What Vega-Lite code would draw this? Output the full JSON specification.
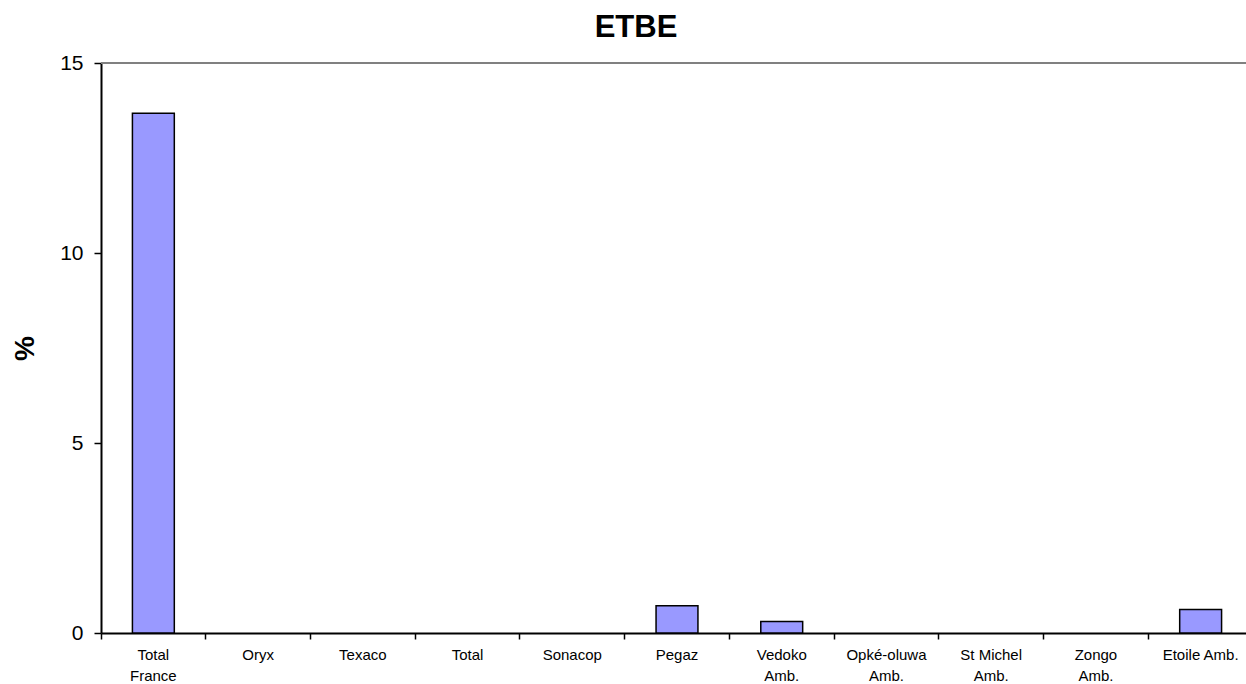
{
  "$schema": "https://vega.github.io/schema/vega-lite/v6.json",
  "autosize": "none",
  "width": 1152,
  "height": 570,
  "padding": {"left": 101, "top": 63, "right": -7, "bottom": 51},
  "background": "white",
  "title": {
    "text": "ETBE",
    "font": "Liberation Sans",
    "fontSize": 31,
    "fontWeight": "bold",
    "color": "black",
    "anchor": "middle",
    "dx": -41,
    "offset": 8
  },
  "config": {
    "view": {"stroke": null},
    "font": "Liberation Sans"
  },
  "data": {
    "values": [
      {"station": "Total|France", "pct": 13.68},
      {"station": "Oryx", "pct": 0},
      {"station": "Texaco", "pct": 0},
      {"station": "Total", "pct": 0},
      {"station": "Sonacop", "pct": 0},
      {"station": "Pegaz", "pct": 0.72},
      {"station": "Vedoko|Amb.", "pct": 0.3},
      {"station": "Opké-oluwa|Amb.", "pct": 0},
      {"station": "St Michel|Amb.", "pct": 0},
      {"station": "Zongo|Amb.", "pct": 0},
      {"station": "Etoile Amb.", "pct": 0.62}
    ]
  },
  "layer": [
    {
      "mark": {"type": "rule", "color": "#808080", "strokeWidth": 2},
      "encoding": {"y": {"datum": 15, "type": "quantitative"}}
    },
    {
      "mark": {"type": "bar", "fill": "#9999FF", "stroke": "black", "strokeWidth": 1.5, "width": {"band": 0.4}},
      "encoding": {
        "x": {
          "field": "station",
          "type": "nominal",
          "sort": null,
          "scale": {"paddingInner": 0, "paddingOuter": 0},
          "axis": {
            "title": null,
            "labelAngle": 0,
            "labelExpr": "split(datum.label, '|')",
            "labelFont": "Liberation Sans",
            "labelFontSize": 15,
            "labelColor": "black",
            "labelLineHeight": 21,
            "labelPadding": 8,
            "bandPosition": 0,
            "ticks": true,
            "tickSize": 6,
            "tickColor": "black",
            "tickWidth": 1.5,
            "domainColor": "black",
            "domainWidth": 2,
            "grid": false
          }
        },
        "y": {
          "field": "pct",
          "type": "quantitative",
          "scale": {"domain": [0, 15], "nice": false},
          "axis": {
            "title": "%",
            "titleFont": "Liberation Sans",
            "titleFontSize": 28,
            "titleFontWeight": "bold",
            "titleColor": "black",
            "titleX": -62,
            "titleY": 285,
            "values": [0, 5, 10, 15],
            "labelFont": "Liberation Sans",
            "labelFontSize": 21,
            "labelColor": "black",
            "labelPadding": 11,
            "tickSize": 7,
            "tickColor": "black",
            "tickWidth": 1.5,
            "domainColor": "black",
            "domainWidth": 2,
            "grid": false
          }
        },
        "strokeOpacity": {
          "condition": {"test": "datum.pct == 0", "value": 0},
          "value": 1
        }
      }
    }
  ]
}
